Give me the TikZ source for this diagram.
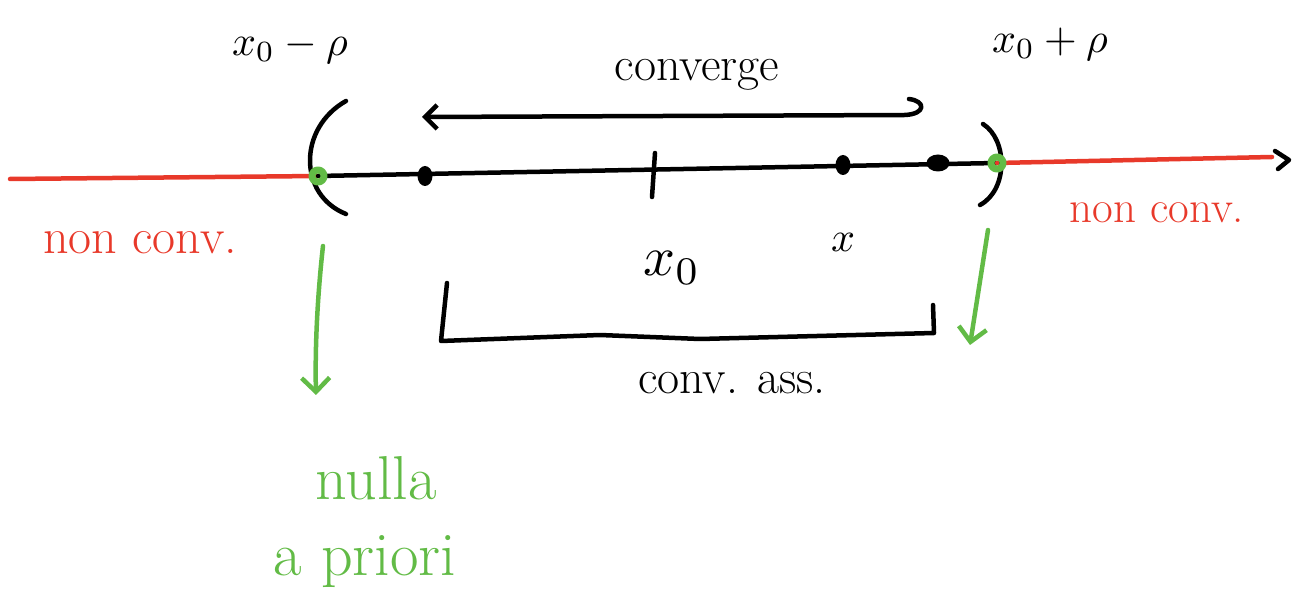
\documentclass[tikz,border=0pt]{standalone}
\usetikzlibrary{arrows.meta,shapes.geometric}
\definecolor{hred}{HTML}{E8392A}
\definecolor{hgreen}{HTML}{62BB46}
\begin{document}
\begin{tikzpicture}[x=1pt,y=-1pt,line cap=round,line join=round,
  pen/.style={line width=4.5pt,draw=black},
  rpen/.style={line width=4.5pt,draw=hred},
  gpen/.style={line width=4.5pt,draw=hgreen},
  gcirc/.style={circle,draw=hgreen,line width=7pt,minimum size=12pt,inner sep=0pt},
  blob/.style={ellipse,fill=black,inner sep=0pt,minimum width=15pt,minimum height=20pt},
  lab/.style={inner sep=0pt,font=\fontsize{48}{52}\selectfont},
  mlab/.style={inner sep=0pt},
  rlab/.style={lab,text=hred},
  glab/.style={inner sep=0pt,text=hgreen,font=\fontsize{62}{66}\selectfont},
  barb/.style={-{Straight Barb[length=14pt,width=28pt,line width=4.5pt]}}
]
\useasboundingbox (0,0) rectangle (1294,612);
% axis
\coordinate (L) at (10,179);
\coordinate (A) at (318,176);
\coordinate (B) at (997,163);
\coordinate (R) at (1272,157);
\coordinate (tip) at (1289,160);
\draw[rpen] (L) -- (A);
\draw[pen] (A) -- (B);
\draw[rpen] (B) -- (R);
\draw[pen] (1275,151) -- (tip) -- (1278,169);
% parentheses
\draw[pen] (346,101) .. controls (298,128) and (298,195) .. (346,214);
\draw[pen] (983,124) .. controls (1008,140) and (1008,190) .. (980,205);
% points
\node[blob] (p1) at (425,176) {};
\node[blob] (p2) at (843,165) {};
\node[blob,minimum width=23pt,minimum height=17pt] (p3) at (938,163) {};
\draw[pen] (655,153) -- (652,197);
\node[gcirc] (gA) at (A) {};
\node[gcirc] (gB) at (B) {};
% converge arrow
\coordinate (cl) at (422,117);
\coordinate (cr) at (905,115);
\draw[pen,{Straight Barb[length=12pt,width=24pt,line width=4.5pt]}-] (cl) -- (cr) .. controls (926,114) and (926,101) .. (909,99);
\node[lab] (conv) at (697,75) {converge};
% labels
\node[mlab,scale=4.2] (xm) at (290,47) {$x_0-\rho$};
\node[mlab,scale=4.2] (xp) at (1050,44) {$x_0+\rho$};
\node[rlab,font=\fontsize{50}{54}\selectfont] (nc1) at (140,243) {non conv.};
\node[rlab,font=\fontsize{45}{50}\selectfont] (nc2) at (1157,213) {non conv.};
\node[mlab,scale=5.6] (x0) at (672,268) {$x_0$};
\node[mlab,scale=4.2] (x) at (843,242) {$x$};
% bracket
\coordinate (b1) at (447,283);
\coordinate (b2) at (441,341);
\coordinate (b3) at (934,333);
\coordinate (b4) at (933,305);
\draw[pen] (b1) -- (b2) -- (600,335) -- (700,339) -- (b3) -- (b4);
\node[lab] (ca) at (732,383) {conv. ass.};
% green arrows
\coordinate (g1s) at (323,246);
\coordinate (g1e) at (316,395);
\coordinate (g2s) at (988,230);
\coordinate (g2e) at (970,345);
\draw[gpen,barb,draw=hgreen] (g1s) .. controls (317,300) and (315,350) .. (g1e);
\draw[gpen,barb,draw=hgreen] (g2s) -- (g2e);
\node[glab] (nulla) at (376,478) {nulla};
\node[glab] (apriori) at (365,562) {a priori};
\end{tikzpicture}
\end{document}
